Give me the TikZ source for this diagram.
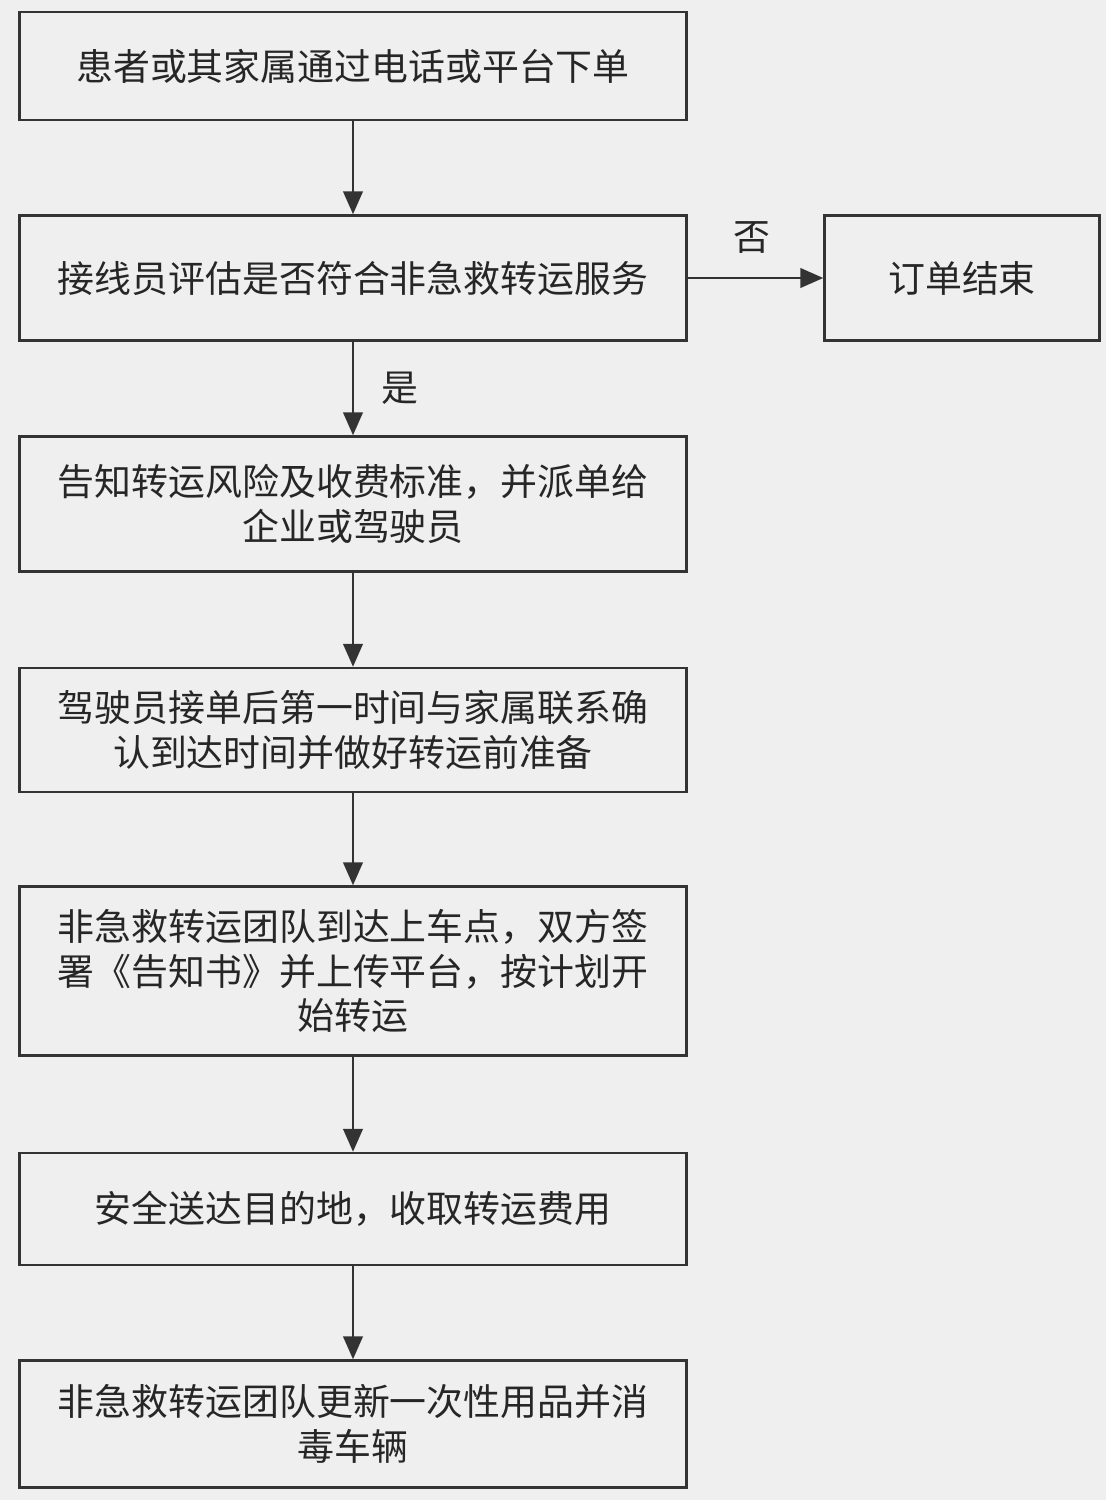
\documentclass[tikz,border=0pt]{standalone}
\usepackage{fontspec}
\newfontfamily\cjk{Noto Sans CJK SC}
\usetikzlibrary{positioning,arrows.meta}
\definecolor{bgcol}{HTML}{EFEFEF}
\definecolor{linecol}{HTML}{333333}
\tikzset{
  stepbox/.style={draw=linecol, line width=1.4pt, fill=bgcol, minimum width=13.34cm,
    align=center, font=\cjk\fontsize{21}{25.5}\selectfont, text=black!85},
  flow/.style={draw=linecol, line width=1.6pt, -{Triangle[length=13pt,width=11pt]}},
  tag/.style={font=\cjk\fontsize{21}{24}\selectfont, text=black!85}
}
\begin{document}
\begin{tikzpicture}[x=0.02cm,y=-0.02cm]
        
        \fill[bgcol] (0,0) rectangle (1106,1500);
        \useasboundingbox (0,0) rectangle (1106,1500);
        
        \node[stepbox, minimum height=2.16cm] (order) at (353,66) {患者或其家属通过电话或平台下单};
        \node[stepbox, minimum height=2.5cm] (check) at (353,278) {接线员评估是否符合非急救转运服务};
        \node[stepbox, minimum height=2.7cm] (inform) at (353,504) {告知转运风险及收费标准，并派单给\\企业或驾驶员};
        \node[stepbox, minimum height=2.48cm] (driver) at (353,730) {驾驶员接单后第一时间与家属联系确\\认到达时间并做好转运前准备};
        \node[stepbox, minimum height=3.38cm] (arrive) at (353,971) {非急救转运团队到达上车点，双方签\\署《告知书》并上传平台，按计划开\\始转运};
        \node[stepbox, minimum height=2.24cm] (deliver) at (353,1209) {安全送达目的地，收取转运费用};
        \node[stepbox, minimum height=2.54cm] (clean) at (353,1424) {非急救转运团队更新一次性用品并消\\毒车辆};
        \node[stepbox, minimum width=5.5cm, minimum height=2.5cm] (finish) at (962,278) {订单结束};
        
        \draw[flow] (order) -- (check);
        \draw[flow] (check) -- (inform) node[tag, midway, right=12pt] (yes) {是};
        \draw[flow] (check) -- (finish) node[tag, midway, above=10pt, xshift=-2pt] (no) {否};
        \draw[flow] (inform) -- (driver);
        \draw[flow] (driver) -- (arrive);
        \draw[flow] (arrive) -- (deliver);
        \draw[flow] (deliver) -- (clean);
        
        \end{tikzpicture}
\end{document}
